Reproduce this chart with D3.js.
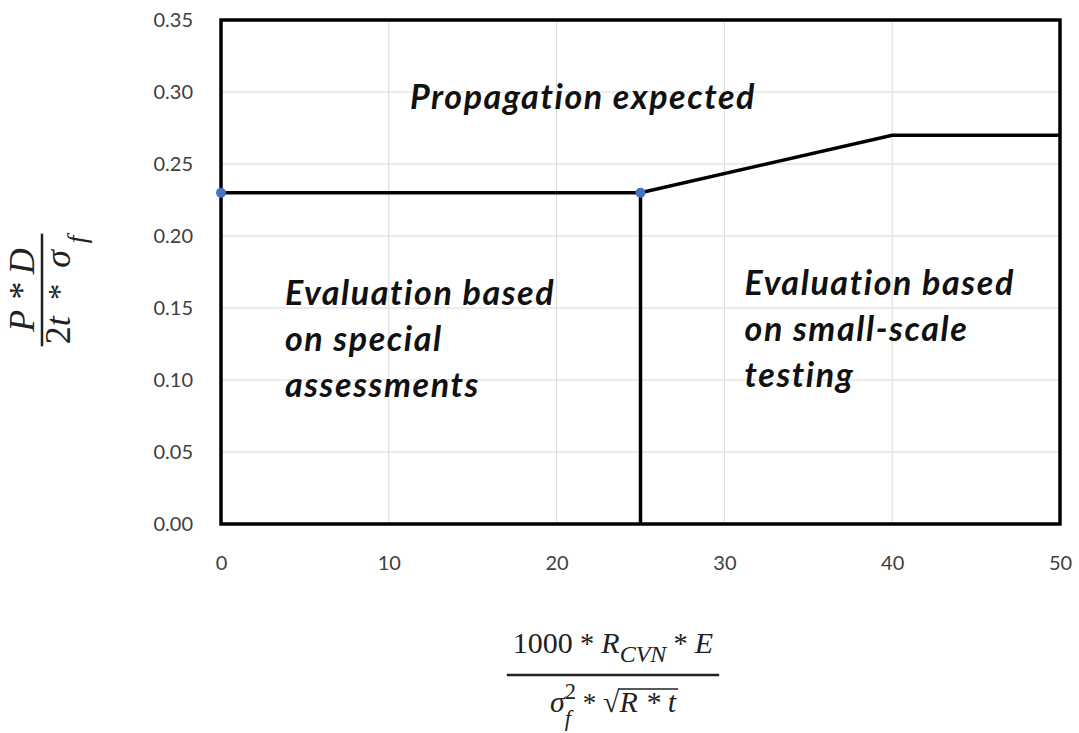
<!DOCTYPE html>
<html>
<head>
<meta charset="utf-8">
<script src="https://cdn.jsdelivr.net/npm/d3@7"></script>
<style>
  body { margin: 0; background: #fff; }
  svg { display: block; }
  text { white-space: pre; }
</style>
</head>
<body>
<div id="chart"></div>
<script>
// axis ticks
const xTicks = [0, 10, 20, 30, 40, 50]
const yTicks = [0, 0.05, 0.10, 0.15, 0.20, 0.25, 0.30, 0.35]

// boundary between "propagation" and the evaluation regions
const curveX = [0, 25, 40, 50]
const curveY = [0.23, 0.23, 0.27, 0.27]

// vertical divider between the two evaluation regions
const dividerX = [25, 25]
const dividerY = [0, 0.23]

// blue markers on the boundary
const markerX = [0, 25]
const markerY = [0.23, 0.23]

// region texts
const topLabel = ['Propagation expected']
const leftLabel = ['Evaluation based', 'on special', 'assessments']
const rightLabel = ['Evaluation based', 'on small-scale', 'testing']

const width = 1079
const height = 733
const margin = {top: 20, right: 19, bottom: 209, left: 221}

const svg = d3.select('#chart').append('svg')
  .attr('width', width)
  .attr('height', height)

const x = d3.scaleLinear()
  .domain([0, 50])
  .range([margin.left, width - margin.right])

const y = d3.scaleLinear()
  .domain([0, 0.35])
  .range([height - margin.bottom, margin.top])

const tickFont = 'Lato, "Open Sans", sans-serif'
const tickColor = '#404040'

// gridlines
svg.append('g')
  .selectAll('line')
  .data(xTicks.slice(1, -1))
  .join('line')
  .attr('x1', d => x(d)).attr('x2', d => x(d))
  .attr('y1', y(0)).attr('y2', y(0.35))
  .attr('stroke', '#d9d9d9')
  .attr('stroke-width', 1)

svg.append('g')
  .selectAll('line')
  .data(yTicks.slice(1, -1))
  .join('line')
  .attr('x1', x(0)).attr('x2', x(50))
  .attr('y1', d => y(d)).attr('y2', d => y(d))
  .attr('stroke', '#d9d9d9')
  .attr('stroke-width', 1)

// axes (labels only)
const xAxis = svg.append('g')
  .attr('transform', `translate(0,${y(0)})`)
  .call(d3.axisBottom(x).tickValues(xTicks).tickSize(0).tickPadding(32)
    .tickFormat(d3.format('d')))
xAxis.select('.domain').remove()
xAxis.selectAll('text')
  .attr('font-family', tickFont)
  .attr('font-size', 20)
  .attr('fill', tickColor)

const yAxis = svg.append('g')
  .attr('transform', `translate(${x(0)},0)`)
  .call(d3.axisLeft(y).tickValues(yTicks).tickSize(0).tickPadding(28)
    .tickFormat(d3.format('.2f')))
yAxis.select('.domain').remove()
yAxis.selectAll('text')
  .attr('font-family', tickFont)
  .attr('font-size', 20)
  .attr('fill', tickColor)

// frame
svg.append('rect')
  .attr('x', x(0))
  .attr('y', y(0.35))
  .attr('width', x(50) - x(0))
  .attr('height', y(0) - y(0.35))
  .attr('fill', 'none')
  .attr('stroke', '#000')
  .attr('stroke-width', 3.5)

// boundary lines
const line = d3.line()
  .x(d => x(d[0]))
  .y(d => y(d[1]))

svg.append('path')
  .datum(d3.zip(curveX, curveY))
  .attr('d', line)
  .attr('fill', 'none')
  .attr('stroke', '#000')
  .attr('stroke-width', 3.5)

svg.append('path')
  .datum(d3.zip(dividerX, dividerY))
  .attr('d', line)
  .attr('fill', 'none')
  .attr('stroke', '#000')
  .attr('stroke-width', 3.5)

svg.append('g')
  .selectAll('circle')
  .data(d3.zip(markerX, markerY))
  .join('circle')
  .attr('cx', d => x(d[0]))
  .attr('cy', d => y(d[1]))
  .attr('r', 5)
  .attr('fill', '#4472c4')

// region labels
function regionLabel (lines, x0, y0) {
  svg.append('text')
    .attr('x', x(x0))
    .attr('y', y(y0))
    .attr('font-family', 'Lato, sans-serif')
    .attr('font-size', 34)
    .attr('letter-spacing', 1.6)
    .attr('font-weight', 'bold')
    .attr('font-style', 'italic')
    .attr('fill', '#111')
    .selectAll('tspan')
    .data(lines)
    .join('tspan')
    .attr('x', x(x0))
    .attr('dy', (d, i) => i === 0 ? 0 : 46)
    .text(d => d)
}
regionLabel(topLabel, 11.26, 0.2883)
regionLabel(leftLabel, 3.81, 0.152)
regionLabel(rightLabel, 31.2, 0.159)

// math axis titles
const mathFont = '"Liberation Serif", "DejaVu Serif", serif'

// lay out pieces of a formula left to right, returns total width
function mathRow (g, parts, fontSize) {
  let cx = 0
  let stackW = 0
  parts.forEach(p => {
    const t = g.append('text')
      .attr('x', cx)
      .attr('y', (p.dy || 0) * fontSize)
      .attr('font-family', mathFont)
      .attr('font-size', (p.scale || 1) * fontSize)
      .attr('font-style', p.italic ? 'italic' : 'normal')
      .attr('fill', '#222')
      .text(p.t)
    const w = t.node().getComputedTextLength()
    p.x0 = cx
    p.w = w
    if (p.stack) {
      stackW = Math.max(stackW, w)
    } else {
      cx += Math.max(w, stackW)
      stackW = 0
    }
  })
  return cx
}

function fraction (g, top, bottom, fontSize, gapTop, gapBottom, barPad) {
  const gt = g.append('g')
  const gb = g.append('g')
  const wt = mathRow(gt, top, fontSize)
  const wb = mathRow(gb, bottom, fontSize)
  const w = Math.max(wt, wb) + barPad * 2
  gt.attr('transform', `translate(${-wt / 2},${-gapTop})`)
  gb.attr('transform', `translate(${-wb / 2},${gapBottom})`)
  g.append('line')
    .attr('x1', -w / 2).attr('x2', w / 2)
    .attr('y1', 0).attr('y2', 0)
    .attr('stroke', '#222')
    .attr('stroke-width', 2.5)
  return {gb, wb}
}

// x title
const xNum = [
  {t: '1000'},
  {t: ' * ', scale: 0.95},
  {t: 'R', italic: true},
  {t: 'CVN', italic: true, scale: 0.8, dy: 0.3},
  {t: ' * ', scale: 0.95},
  {t: 'E', italic: true}
]
const xDen = [
  {t: 'σ', italic: true},
  {t: '2', scale: 0.75, dy: -0.42, stack: true},
  {t: 'f', italic: true, scale: 0.75, dy: 0.45},
  {t: ' * ', scale: 0.9},
  {t: '√'},
  {t: 'R * t', italic: true}
]
const gx = svg.append('g').attr('transform', 'translate(613,675)')
const fx = fraction(gx, xNum, xDen, 30, 22, 37, 6)
const rad = xDen[5]
fx.gb.append('line')
  .attr('x1', rad.x0 - 1).attr('x2', rad.x0 + rad.w + 2)
  .attr('y1', -23).attr('y2', -23)
  .attr('stroke', '#222')
  .attr('stroke-width', 1.6)

// y title
const yNum = [
  {t: 'P * D', italic: true}
]
const yDen = [
  {t: '2'},
  {t: 't', italic: true},
  {t: '  *  ', scale: 0.9},
  {t: 'σ', italic: true},
  {t: ' f', italic: true, scale: 0.75, dy: 0.45}
]
const gy = svg.append('g').attr('transform', 'translate(42,290) rotate(-90)')
fraction(gy, yNum, yDen, 36, 8, 28, 2)
</script>
</body>
</html>
